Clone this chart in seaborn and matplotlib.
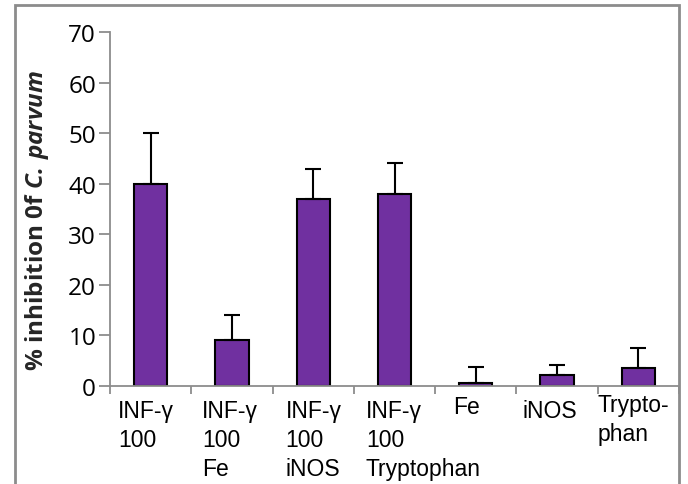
import matplotlib
matplotlib.use("Agg")
import matplotlib.pyplot as plt
import matplotlib.transforms as mtransforms
from matplotlib.patches import Rectangle
import seaborn as sns
import pandas as pd
import numpy as np

# ---- data ----
categories = ["INF-γ\n100", "INF-γ\n100\nFe", "INF-γ\n100\niNOS", "INF-γ\n100\nTryptophan",
              "Fe", "iNOS", "Trypto-\nphan"]
values = [40, 9, 37, 38, 0.6, 2.1, 3.6]
errors = [10, 5, 6, 6, 3.1, 2.1, 4.0]
yticks = [0, 10, 20, 30, 40, 50, 60, 70]

sns.set_theme(style="white")
plt.rcParams["font.family"] = ["Liberation Sans", "DejaVu Sans"]
plt.rcParams["mathtext.fontset"] = "custom"
plt.rcParams["mathtext.bfit"] = "Open Sans:italic:bold"
plt.rcParams["mathtext.it"] = "Open Sans:italic:bold"
plt.rcParams["mathtext.rm"] = "Open Sans:bold"

fig = plt.figure(figsize=(6.88, 4.85), dpi=100)
ax = fig.add_axes([110 / 688, 98 / 485, (679 - 110) / 688, (387 - 33) / 485])

df = pd.DataFrame({"cat": [f"c{i}" for i in range(len(categories))], "val": values})
sns.barplot(data=df, x="cat", y="val", ax=ax, color="#7030A0", saturation=1,
            width=0.41, edgecolor="black", linewidth=1.5, errorbar=None)

# upper-only error bars, positioned on the bars drawn by seaborn
xs = [p.get_x() + p.get_width() / 2 for p in ax.patches]
ax.errorbar(xs, values, yerr=[np.zeros(len(values)), errors], fmt="none",
            ecolor="black", elinewidth=1.5, capsize=5.5, capthick=1.5, zorder=3)

ax.set_xlim(-0.5, len(categories) - 0.5)
ax.set_ylim(0, 70)
ax.set_yticks(yticks)
ax.set_yticklabels([str(t) for t in yticks], fontfamily="Open Sans", fontsize=17.5)
ax.set_xticks(np.arange(-0.5, len(categories), 1.0))
ax.set_xticklabels([])
ax.set_xlabel("")
ax.set_ylabel("")

gray = "#8c8c8c"
for s in ["top", "right"]:
    ax.spines[s].set_visible(False)
for s in ["left", "bottom"]:
    ax.spines[s].set_color(gray)
    ax.spines[s].set_linewidth(1.3)
ax.tick_params(axis="y", which="major", direction="out", length=8, width=1.3,
               color=gray, pad=2, left=True, labelcolor="black")
ax.tick_params(axis="x", which="major", direction="out", length=6, width=1.3,
               color=gray, bottom=True)

# category labels (block left-aligned, small offsets as in reference), one text per line
pads_px = [8, 11, 13, 12, 18, 6, 0]
tops_px = [13, 13, 13, 13, 9, 13, 7]
line_px = 29
blend = mtransforms.blended_transform_factory(ax.transData, ax.transAxes)
for i, lab in enumerate(categories):
    for j, line in enumerate(lab.split("\n")):
        off = mtransforms.ScaledTranslation(pads_px[i] / 100,
                                            -(tops_px[i] + j * line_px) / 100,
                                            fig.dpi_scale_trans)
        ax.text(i - 0.5, 0, line, transform=blend + off, ha="left", va="top",
                fontsize=16.5, color="black")

# y label
fig.text(37 / 688, 1 - 221 / 485, r"% inhibition 0f $\mathbfit{C.\,parvum}$",
         rotation=90, ha="center", va="center", fontsize=17.5,
         fontfamily="Open Sans", fontweight="bold")

# chart frame
fig.patches.append(Rectangle((15 / 688, -0.1), (679 - 15) / 688, 1.1 - 6 / 485,
                             transform=fig.transFigure, fill=False,
                             edgecolor=gray, linewidth=2, clip_on=False))

fig.savefig("out.png", dpi=100)
